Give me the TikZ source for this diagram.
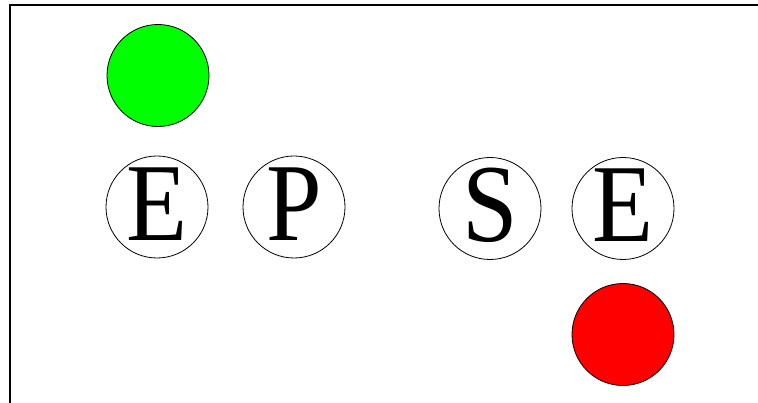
\documentclass[tikz,border=0pt]{standalone}
\usepackage{fontspec}
\newfontfamily\signfont[FakeStretch=0.9]{Liberation Serif}
\usepackage{tikz}

\begin{document}
\begin{tikzpicture}[x=1pt,y=-1pt,
    ball/.style={circle,draw,line width=0.8pt,inner sep=0pt,minimum size=102pt},
    letter/.style={ball,fill=white,text height=67pt,text depth=0pt,font=\signfont\fontsize{111}{111}\selectfont}]
  \useasboundingbox (0,0) rectangle (758,403);
  \draw[line width=2pt] (10,403) -- (10,5.5) -- (758,5.5);
  \node[ball,fill=green] (go) at (158,75.5) {};
  \node[letter] (e1) at (157,207) {E};
  \node[letter] (p) at (294,207) {P};
  \node[letter] (s) at (490,208.5) {S};
  \node[letter] (e2) at (623,208.5) {E};
  \node[ball,fill=red] (stop) at (623,334.5) {};
\end{tikzpicture}
\end{document}
